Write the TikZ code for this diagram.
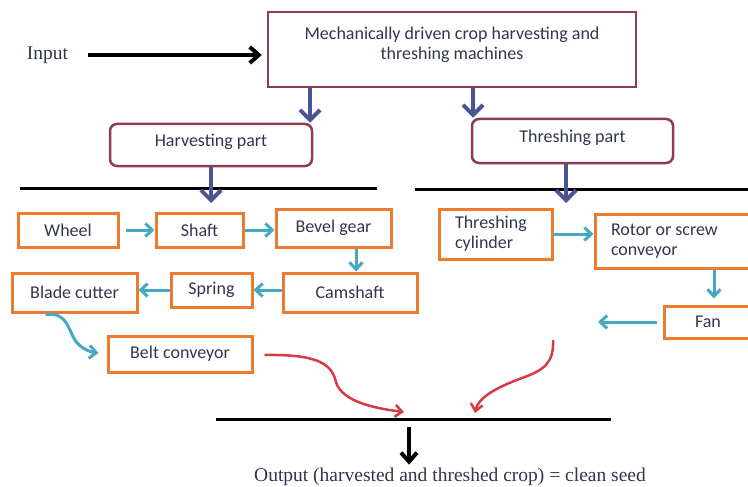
\documentclass[tikz,border=0pt]{standalone}
\usepackage{fontspec}
\setmainfont{Carlito}
\newfontfamily\serifface{Liberation Serif}
\usetikzlibrary{positioning,calc}
\usetikzlibrary{arrows.meta}

\definecolor{boxred}{HTML}{8E3B4F}
\definecolor{boxorange}{HTML}{EE7A30}
\definecolor{flowblue}{HTML}{4B5593}
\definecolor{flowcyan}{HTML}{45A8C4}
\definecolor{flowred}{HTML}{D83A44}
\definecolor{textnavy}{HTML}{30374D}

\tikzset{
    partbox/.style = {draw = boxred, line width = 2.5pt, text = textnavy, align = center},
    roundbox/.style = {partbox, rounded corners = 7pt},
    itembox/.style = {draw = boxorange, line width = 3pt, text = textnavy, inner sep = 0pt},
    blueflow/.style = {-{Straight Barb[length = 10pt, width = 20pt]}, draw = flowblue, line width = 4pt},
    cyanflow/.style = {-{Straight Barb[length = 7pt, width = 13pt]}, draw = flowcyan, line width = 3pt},
    redflow/.style = {-{Straight Barb[length = 7pt, width = 12pt]}, draw = flowred, line width = 2.5pt},
    blackflow/.style = {-{Straight Barb[length = 9pt, width = 16pt]}, draw = black, line width = 4pt},
    bar/.style = {draw = black, line width = 3pt},
}

\begin{document}
\begin{tikzpicture}[x = 1pt, y = -1pt, font = \fontsize{18}{20}\selectfont]
    \clip (0, 0) rectangle (748, 487);

    \node (input) [text = textnavy, font = \serifface\fontsize{19.5}{22}\selectfont] at (47.5, 55) {Input};
    \node (main) [partbox, minimum width = 368pt, minimum height = 75pt, text depth = 12pt] at (452, 49.5) {Mechanically driven crop harvesting and\\threshing machines};

    \node (harvest) [roundbox, minimum width = 202pt, minimum height = 42pt, text depth = 9pt] at (211, 145) {Harvesting part};
    \node (thresh) [roundbox, minimum width = 201pt, minimum height = 44pt, text depth = 10pt] at (572.5, 141) {Threshing part};

    \draw [blackflow, shorten > = 5pt] ($(input.east) + (16, 0)$)  --  (input.east -| main.west);

    \coordinate (h1) at (310, 0);
    \coordinate (t1) at (473, 0);
    \draw [blueflow] (main.south -| h1)  --  (harvest.north -| h1);
    \draw [blueflow] (main.south -| t1)  --  (thresh.north -| t1);

    % bars
    \draw [bar] (20, 188)  --  (377, 188);
    \draw [bar] (415, 189)  --  (748, 189);
    \draw [bar] (216, 419)  --  (611, 419);

    \coordinate (hDown) at (211, 203);
    \coordinate (tDown) at (566, 203);
    \draw [blueflow] (harvest.south)  --  (hDown);
    \draw [blueflow] (thresh.south -| tDown)  --  (tDown);

    % harvesting part
    \node (wheel) [itembox, minimum width = 100pt, minimum height = 34pt] at (68, 230) {Wheel};
    \node (shaft) [itembox, minimum width = 87pt, minimum height = 34pt] at (199.5, 230) {Shaft};
    \node (bevel) [itembox, minimum width = 115pt, minimum height = 38pt] at (333.5, 228) {Bevel gear};
    \node (camshaft) [itembox, minimum width = 134pt, minimum height = 39pt] at (350, 292.5) {Camshaft};
    \node (spring) [itembox, minimum width = 81pt, minimum height = 34pt] at (211.5, 290) {Spring};
    \node (blade) [itembox, minimum width = 125pt, minimum height = 39pt] at (74.5, 292.5) {Blade cutter};
    \node (belt) [itembox, minimum width = 144pt, minimum height = 36pt] at (180, 354) {Belt conveyor};

    \draw [cyanflow, shorten < = 6pt] (wheel)  --  (shaft);
    \draw [cyanflow] (shaft.east)  --  (shaft.east -| bevel.west);
    \coordinate (b1) at (356, 0);
    \draw [cyanflow] (bevel.south -| b1)  --  (camshaft.north -| b1);
    \draw [cyanflow] (spring.east -| camshaft.west)  --  (spring.east);
    \draw [cyanflow] (spring.west)  --  (spring.west -| blade.east);
    \draw [cyanflow] ($(blade.south west) + (35, 1)$) .. controls (68, 312) and (68, 330) .. (75, 340)
        .. controls (80, 348) and (90, 352) .. ($(belt.west) + (-8, -1)$);

    % threshing part
    \node (cylinder) [itembox, minimum width = 113pt, minimum height = 50pt, inner xsep = 16pt, text width = 81pt, align = flush left] at (495.5, 234) {Threshing\\cylinder};
    \node (rotor) [itembox, minimum width = 157pt, minimum height = 54pt, inner xsep = 16pt, text width = 125pt, align = flush left] at (673.5, 241) {Rotor or screw\\conveyor};
    \node (fan) [itembox, minimum width = 88pt, minimum height = 32pt] at (708, 322) {Fan};

    \draw [cyanflow] (cylinder.east)  --  (cylinder.east -| rotor.west);
    \coordinate (r1) at (714, 0);
    \draw [cyanflow, shorten > = 6pt] (rotor.south -| r1)  --  (fan.north -| r1);
    \coordinate (fanOut) at (598, 322);
    \draw [cyanflow, shorten < = 6pt] (fan.west)  --  (fanOut);

    % output
    \coordinate (merge) at (409, 419);
    \coordinate (thrOut) at (553, 340);
    \node (output) [text = textnavy, font = \serifface\fontsize{19.5}{22}\selectfont] at (450, 477) {Output (harvested and threshed crop) = clean seed};

    \draw [redflow] ($(belt.east) + (11, 1)$) .. controls (322, 354) and (332, 366) .. (336, 382)
        .. controls (342, 403) and (380, 409) .. ($(merge) + (-5, -7)$);
    \draw [redflow] (thrOut) .. controls (554, 362) and (545, 370) .. (522, 378)
        .. controls (495, 388) and (478, 398) .. ($(merge) + (66, -6)$);
    \draw [blackflow] ($(merge) + (0, 8)$)  --  (merge |- output.north);

\end{tikzpicture}
\end{document}
